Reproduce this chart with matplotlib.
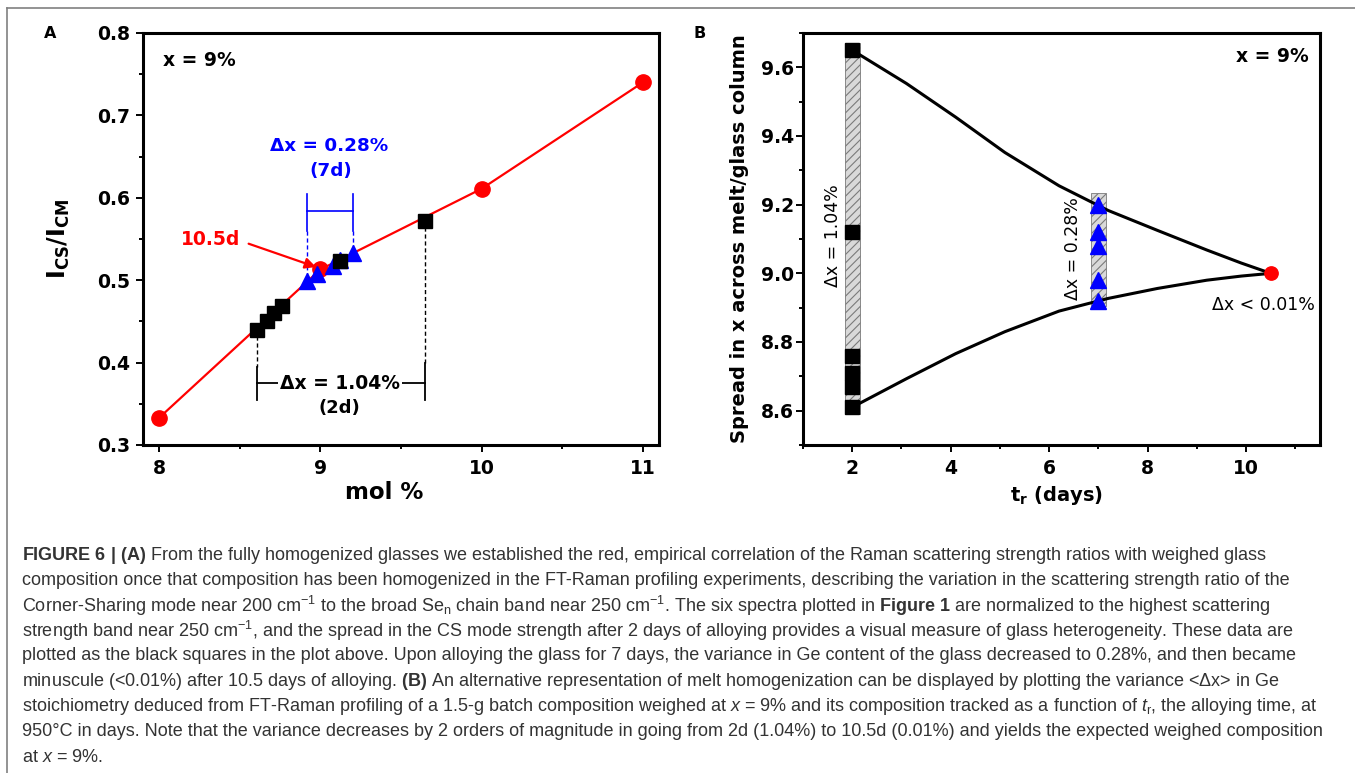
#Recreation of the two-panel homogenization figure (A: Raman ratio vs mol %, B: spread vs time)

#imports
import matplotlib
matplotlib.use("Agg")
import matplotlib.pyplot as plt
from matplotlib import font_manager as fm
from matplotlib.lines import Line2D
from matplotlib.ticker import MultipleLocator, FormatStrFormatter

#data, panel A
fit_x = [8, 9, 10, 11]
fit_y = [0.333, 0.513, 0.611, 0.740]
d2_x = [8.61, 8.67, 8.71, 8.76, 9.12, 9.65]
d2_y = [0.440, 0.451, 0.460, 0.469, 0.523, 0.572]
d7_x = [8.92, 8.98, 9.08, 9.12, 9.20]
d7_y = [0.499, 0.507, 0.517, 0.525, 0.533]

#data, panel B
t_2d, t_7d, t_final = 2, 7, 10.5
x_2d = [8.61, 8.67, 8.71, 8.76, 9.12, 9.65]
x_7d = [8.92, 8.98, 9.08, 9.12, 9.20]
x_final = 9.0
bar_t = [2, 7]
bar_lo = [8.59, 8.905]
bar_hi = [9.67, 9.235]
upper_t = [2, 3.1, 4.1, 5.1, 6.2, 7.2, 8.2, 9.2, 9.9, 10.5]
upper_x = [9.65, 9.553, 9.455, 9.352, 9.255, 9.183, 9.125, 9.068, 9.030, 9.0]
lower_t = [2, 3.1, 4.1, 5.1, 6.2, 7.2, 8.2, 9.2, 9.9, 10.5]
lower_x = [8.61, 8.693, 8.766, 8.830, 8.890, 8.927, 8.956, 8.980, 8.992, 9.0]

#caption font (condensed if available)
names = {f.name for f in fm.fontManager.ttflist}
if 'Liberation Sans Narrow' in names:
	cap_font, cap_size = 'Liberation Sans Narrow', 15.0
else:
	cap_font, cap_size = 'Liberation Sans', 13.0

plt.rcParams['font.family'] = ['DejaVu Sans']
plt.rcParams['font.weight'] = 'bold'
plt.rcParams['axes.labelweight'] = 'bold'
plt.rcParams['mathtext.fontset'] = 'custom'
plt.rcParams['mathtext.rm'] = cap_font + ':style=normal:weight=normal'
plt.rcParams['mathtext.it'] = cap_font + ':style=italic:weight=normal'
plt.rcParams['mathtext.bf'] = cap_font + ':style=normal:weight=bold'
plt.rcParams['mathtext.sf'] = 'DejaVu Sans:weight=bold'
plt.rcParams['hatch.linewidth'] = 0.8

W, H = 1355, 773
fig = plt.figure(figsize=(W / 100, H / 100), dpi=100)

def box(l, t, r, b):
	return [l / W, 1 - b / H, (r - l) / W, (b - t) / H]

axA = fig.add_axes(box(143, 33, 659, 445))
axB = fig.add_axes(box(803, 33, 1320, 445))

for ax in (axA, axB):
	for s in ax.spines.values():
		s.set_linewidth(2.2)
	ax.tick_params(which='both', direction='out', top=False, right=False, width=1.4)
	ax.tick_params(which='major', length=5, labelsize=13.5)
	ax.tick_params(which='minor', length=3)
	ax.tick_params(axis='x', pad=5)

#----- panel A -----
axA.plot(fit_x, fit_y, color='red', lw=1.6, zorder=2)
axA.plot(fit_x, fit_y, 'o', color='red', ms=11, zorder=3)
axA.plot(d7_x, d7_y, '^', color='blue', ms=11.5, zorder=4)
axA.plot(d2_x, d2_y, 's', color='black', ms=9.6, zorder=5)

lo2, hi2 = min(d2_x), max(d2_x)
axA.plot([lo2, lo2], [0.432, 0.395], color='k', lw=1, ls=(0, (3, 2)))
axA.plot([hi2, hi2], [0.565, 0.400], color='k', lw=1, ls=(0, (3, 2)))
axA.plot([lo2, lo2], [0.395, 0.355], color='k', lw=1.3)
axA.plot([hi2, hi2], [0.400, 0.355], color='k', lw=1.3)
axA.plot([lo2, hi2], [0.375, 0.375], color='k', lw=1.3)
axA.text(9.12, 0.375, 'Δx = 1.04%', ha='center', va='center', fontsize=13.5,
	bbox=dict(fc='white', ec='none', pad=1.5))
axA.text(9.12, 0.345, '(2d)', ha='center', va='center', fontsize=13)

lo7, hi7 = min(d7_x), max(d7_x)
axA.plot([lo7, hi7], [0.584, 0.584], color='blue', lw=1.2)
axA.plot([lo7, lo7], [0.605, 0.560], color='blue', lw=1.2)
axA.plot([hi7, hi7], [0.605, 0.560], color='blue', lw=1.2)
axA.plot([lo7, lo7], [0.560, 0.508], color='blue', lw=1, ls=(0, (3, 2)))
axA.plot([hi7, hi7], [0.560, 0.542], color='blue', lw=1, ls=(0, (3, 2)))
axA.text(9.057, 0.663, 'Δx = 0.28%', color='blue', ha='center', va='center', fontsize=13.2)
axA.text(9.066, 0.632, '(7d)', color='blue', ha='center', va='center', fontsize=13.2)

axA.text(8.317, 0.549, '10.5d', color='red', ha='center', va='center', fontsize=13.5)
axA.annotate('', xy=(8.973, 0.516), xytext=(8.555, 0.5443),
	arrowprops=dict(arrowstyle='-|>', color='red', lw=1.6, mutation_scale=16, shrinkA=0, shrinkB=0))
axA.text(8.25, 0.767, 'x = 9%', ha='center', va='center', fontsize=13.5)

axA.set_xlim(7.9, 11.1)
axA.set_ylim(0.3, 0.8)
axA.xaxis.set_major_locator(MultipleLocator(1))
axA.xaxis.set_minor_locator(MultipleLocator(0.5))
axA.yaxis.set_major_locator(MultipleLocator(0.1))
axA.yaxis.set_minor_locator(MultipleLocator(0.05))
axA.xaxis.set_major_formatter(FormatStrFormatter('%d'))
axA.yaxis.set_major_formatter(FormatStrFormatter('%.1f'))
axA.tick_params(axis='y', pad=4)
axA.set_xlabel('mol %', fontsize=16.5, fontweight='bold')
axA.set_ylabel(r'$\mathsf{I_{CS}/I_{CM}}$', fontsize=17)
axA.xaxis.set_label_coords(0.467, -0.088)
axA.yaxis.set_label_coords(-0.138, 0.5)

#----- panel B -----
for t, lo, hi in zip(bar_t, bar_lo, bar_hi):
	axB.bar(t, hi - lo, bottom=lo, width=0.3, color='#d9d9d9', edgecolor='#7a7a7a',
		hatch='////', linewidth=0.6, zorder=1)
axB.plot(upper_t, upper_x, color='black', lw=2.2, zorder=2, solid_joinstyle='round')
axB.plot(lower_t, lower_x, color='black', lw=2.2, zorder=2, solid_joinstyle='round')
axB.plot([t_2d] * len(x_2d), x_2d, 's', color='black', ms=9.6, zorder=4)
axB.plot([t_7d] * len(x_7d), x_7d, '^', color='blue', ms=11.5, zorder=4)
axB.plot([t_final], [x_final], 'o', color='red', ms=9.6, zorder=4)

axB.text(1.61, 9.109, 'Δx = 1.04%', rotation=90, ha='center', va='center',
	fontsize=12.5, fontweight='normal')
axB.text(6.49, 9.071, 'Δx = 0.28%', rotation=90, ha='center', va='center',
	fontsize=12.5, fontweight='normal')
axB.text(10.36, 8.907, 'Δx < 0.01%', ha='center', va='center', fontsize=12.5, fontweight='normal')
axB.text(10.54, 9.632, 'x = 9%', ha='center', va='center', fontsize=13.5)

axB.set_xlim(1, 11.5)
axB.set_ylim(8.5, 9.7)
axB.xaxis.set_major_locator(MultipleLocator(2))
axB.xaxis.set_minor_locator(MultipleLocator(1))
axB.yaxis.set_major_locator(MultipleLocator(0.2))
axB.yaxis.set_minor_locator(MultipleLocator(0.1))
axB.xaxis.set_major_formatter(FormatStrFormatter('%d'))
axB.yaxis.set_major_formatter(FormatStrFormatter('%.1f'))
axB.tick_params(axis='y', pad=1.5)
axB.set_xlabel(r'$\mathsf{t_r}$ (days)', fontsize=14, fontweight='bold')
axB.set_ylabel('Spread in x across melt/glass column', fontsize=14, fontweight='bold')
axB.xaxis.set_label_coords(0.491, -0.095)
axB.yaxis.set_label_coords(-0.104, 0.5)

for ax in (axA, axB):
	for lab in ax.get_xticklabels() + ax.get_yticklabels():
		lab.set_fontweight('bold')

#panel letters
fig.text(50 / W, 1 - 34 / H, 'A', ha='center', va='center', fontsize=11.5)
fig.text(699.5 / W, 1 - 34 / H, 'B', ha='center', va='center', fontsize=11.5)

#grey frame around the figure
fig.add_artist(Line2D([7 / W, 1], [1 - 8 / H, 1 - 8 / H], color='#808080', lw=1.2))
fig.add_artist(Line2D([7 / W, 7 / W], [0, 1 - 8 / H], color='#808080', lw=1.2))

#caption
caption = [
	r'$\mathbf{FIGURE\ 6\ |\ (A)}$ From the fully homogenized glasses we established the red, empirical correlation of the Raman scattering strength ratios with weighed glass',
	'composition once that composition has been homogenized in the FT-Raman profiling experiments, describing the variation in the scattering strength ratio of the',
	r'Corner-Sharing mode near 200 cm$^{-1}$ to the broad Se$_\mathrm{n}$ chain band near 250 cm$^{-1}$. The six spectra plotted in $\mathbf{Figure\ 1}$ are normalized to the highest scattering',
	r'strength band near 250 cm$^{-1}$, and the spread in the CS mode strength after 2 days of alloying provides a visual measure of glass heterogeneity. These data are',
	'plotted as the black squares in the plot above. Upon alloying the glass for 7 days, the variance in Ge content of the glass decreased to 0.28%, and then became',
	r'minuscule (<0.01%) after 10.5 days of alloying. $\mathbf{(B)}$ An alternative representation of melt homogenization can be displayed by plotting the variance <Δx> in Ge',
	r'stoichiometry deduced from FT-Raman profiling of a 1.5-g batch composition weighed at $x$ = 9% and its composition tracked as a function of $t_\mathrm{r}$, the alloying time, at',
	'950°C in days. Note that the variance decreases by 2 orders of magnitude in going from 2d (1.04%) to 10.5d (0.01%) and yields the expected weighed composition',
	r'at $x$ = 9%.',
]
for i, line in enumerate(caption):
	y = 555 + 25.25 * i
	fig.text(22 / W, 1 - y / H, line, ha='left', va='center', fontsize=cap_size,
		family=cap_font, fontweight='normal', color='#333333')

#output the figure
fig.savefig('out.png', dpi=100)
